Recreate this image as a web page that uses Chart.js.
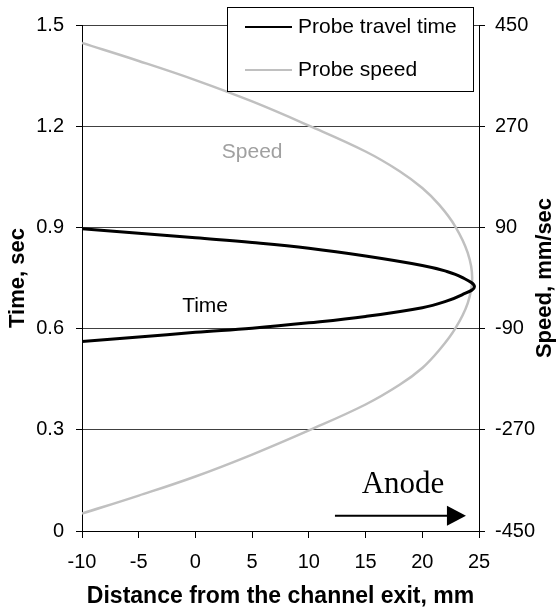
<!DOCTYPE html>
<html>
<head>
<meta charset="utf-8">
<script src="https://cdn.jsdelivr.net/npm/chart.js@4"></script>
<style>
  body { margin: 0; background: #fff; }
  canvas { display: block; }
</style>
</head>
<body>
<canvas id="myChart" width="557" height="611"></canvas>
<script>
// probe travel time (left axis, sec) vs distance (mm)
const timeX = [-10, -5, 0, 5, 10, 15, 20, 22, 23.5, 24.6, 23.5, 22, 20, 15, 10, 5, 0, -5, -10];
const timeY = [0.896, 0.883, 0.869, 0.855, 0.838, 0.815, 0.787, 0.771, 0.752, 0.724,
  0.700, 0.680, 0.662, 0.636, 0.617, 0.601, 0.589, 0.575, 0.562];

// probe speed (right axis, mm/sec) vs distance (mm)
const speedX = [-10, -5, 0, 5, 10, 15, 18, 20, 21.5, 22.9, 24, 24.4,
  24, 22.9, 21.5, 20, 18, 15, 10, 5, 0, -5, -10];
const speedY = [418, 386, 352, 314, 271, 225, 190, 160, 130, 92, 45, 0,
  -45, -90, -128, -160, -190, -225, -271, -314, -353, -387, -419];

const seriesNames = ["Probe travel time", "Probe speed"];
const rightTitle = "Speed, mm/sec";

const font = "'Liberation Sans', Arial, sans-serif";
const colors = { time: "#000000", speed: "#c0c0c0", speedText: "#a0a0a0", grid: "#404040" };

const toPoints = (xs, ys) => xs.map((x, i) => ({ x: x, y: ys[i] }));

// labels drawn in data coordinates
const notes = [
  { text: "Speed", x: 5.0, y: 1.124, color: colors.speedText, font: "21px " + font },
  { text: "Time", x: 0.85, y: 0.667, color: "#000", font: "21px " + font },
  { text: "Anode", x: 18.3, y: 0.136, color: "#000", font: "31px 'Liberation Serif', 'Times New Roman', serif" },
];
const arrow = { x0: 12.3, x1: 23.85, y: 0.045 };

const extras = {
  id: "extras",
  afterDatasetsDraw(chart) {
    const ctx = chart.ctx;
    const xs = chart.scales.x, ys = chart.scales.y;
    ctx.save();
    notes.forEach((n) => {
      ctx.font = n.font;
      ctx.fillStyle = n.color;
      ctx.textAlign = "center";
      ctx.textBaseline = "middle";
      ctx.fillText(n.text, xs.getPixelForValue(n.x), ys.getPixelForValue(n.y));
    });

    // arrow
    const ay = ys.getPixelForValue(arrow.y);
    const ax0 = xs.getPixelForValue(arrow.x0);
    const ax1 = xs.getPixelForValue(arrow.x1);
    ctx.strokeStyle = "#000";
    ctx.lineWidth = 2;
    ctx.beginPath();
    ctx.moveTo(ax0, ay);
    ctx.lineTo(ax1 - 18, ay);
    ctx.stroke();
    ctx.fillStyle = "#000";
    ctx.beginPath();
    ctx.moveTo(ax1, ay);
    ctx.lineTo(ax1 - 19, ay - 10);
    ctx.lineTo(ax1 - 19, ay + 10);
    ctx.closePath();
    ctx.fill();

    // legend box
    const bx = 227, by = 7, bw = 246, bh = 84;
    ctx.fillStyle = "#fff";
    ctx.fillRect(bx, by, bw, bh);
    ctx.strokeStyle = "#000";
    ctx.lineWidth = 1;
    ctx.strokeRect(bx + 0.5, by + 0.5, bw, bh);
    chart.data.datasets.forEach((ds, i) => {
      const ly = by + 20 + i * 43;
      ctx.strokeStyle = ds.borderColor;
      ctx.lineWidth = 2;
      ctx.beginPath();
      ctx.moveTo(bx + 18, ly);
      ctx.lineTo(bx + 65, ly);
      ctx.stroke();
      ctx.font = "21px " + font;
      ctx.fillStyle = "#000";
      ctx.textAlign = "left";
      ctx.textBaseline = "middle";
      ctx.fillText(ds.label, bx + 71, ly);
    });

    // right axis title, reading bottom to top like the left one
    const y2 = chart.scales.y2;
    ctx.translate(y2.right - 12, (y2.top + y2.bottom) / 2);
    ctx.rotate(-Math.PI / 2);
    ctx.font = "bold 22px " + font;
    ctx.fillStyle = "#000";
    ctx.textAlign = "center";
    ctx.textBaseline = "middle";
    ctx.fillText(rightTitle, 0, 0);
    ctx.restore();
  },
};

const ctx = document.getElementById("myChart").getContext("2d");
new Chart(ctx, {
  type: "scatter",
  data: {
    datasets: [
      {
        label: seriesNames[0],
        data: toPoints(timeX, timeY),
        yAxisID: "y",
        showLine: true,
        borderColor: colors.time,
        borderWidth: 3,
        pointRadius: 0,
        tension: 0.4,
      },
      {
        label: seriesNames[1],
        data: toPoints(speedX, speedY),
        yAxisID: "y2",
        showLine: true,
        borderColor: colors.speed,
        borderWidth: 2.5,
        pointRadius: 0,
        tension: 0.4,
      },
    ],
  },
  options: {
    responsive: false,
    animation: false,
    devicePixelRatio: 1,
    layout: { padding: { top: 25 } },
    plugins: { legend: { display: false }, tooltip: { enabled: false } },
    scales: {
      x: {
        type: "linear",
        min: -10,
        max: 25,
        ticks: { stepSize: 5, color: "#000", padding: 12, font: { family: font, size: 20 } },
        grid: { drawOnChartArea: false, tickLength: 7, color: "#000" },
        border: { color: "#000", width: 1 },
        title: {
          display: true,
          text: "Distance from the channel exit, mm",
          color: "#000",
          font: { family: font, size: 23, weight: "bold" },
          padding: { top: 0, bottom: 1 },
        },
        afterFit: (s) => { s.height = 80; },
      },
      y: {
        position: "left",
        min: 0,
        max: 1.5,
        ticks: {
          stepSize: 0.3,
          color: "#000",
          padding: 12,
          font: { family: font, size: 20 },
          callback: (v) => String(Number(v.toFixed(1))),
        },
        grid: { color: colors.grid, tickColor: "#000", tickLength: 6 },
        border: { color: "#000", width: 1 },
        title: {
          display: true,
          text: "Time, sec",
          color: "#000",
          font: { family: font, size: 22, weight: "bold" },
          padding: { top: 5, bottom: 0 },
        },
        afterFit: (s) => { s.width = 82; },
      },
      y2: {
        position: "right",
        min: -450,
        max: 450,
        ticks: { stepSize: 180, color: "#000", padding: 10, font: { family: font, size: 20 } },
        grid: { drawOnChartArea: false, tickLength: 6, color: "#000" },
        border: { color: "#000", width: 1 },
        title: { display: false },
        afterFit: (s) => { s.width = 78; },
      },
    },
  },
  plugins: [extras],
});
</script>
</body>
</html>
